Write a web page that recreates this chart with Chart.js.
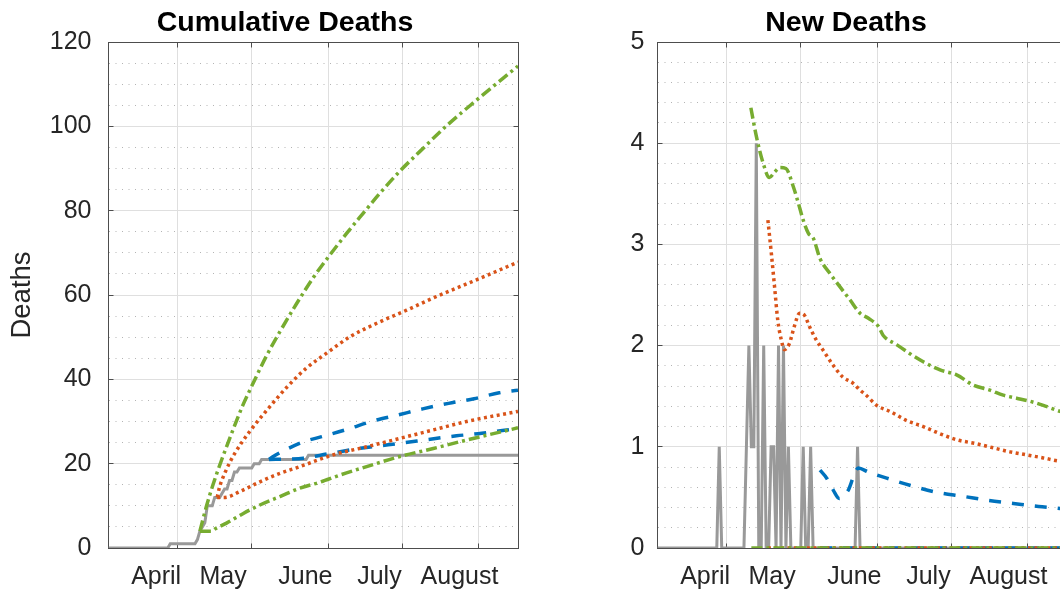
<!DOCTYPE html>
<html>
<head>
<meta charset="utf-8">
<title>Cumulative and New Deaths</title>
<script src="https://cdn.jsdelivr.net/npm/chart.js"></script>
<style>
  html, body { margin: 0; padding: 0; background: #fff; overflow: hidden; }
  body { width: 1060px; height: 594px; position: relative; }
  .panel { position: absolute; top: 0; width: 560px; height: 594px; }
</style>
</head>
<body>
<div class="panel" style="left:0px"><canvas id="cumChart" width="560" height="594"></canvas></div>
<div class="panel" style="left:560px"><canvas id="newChart" width="560" height="594"></canvas></div>
<script>
// x values are days counted from 1 March 2020 (1 April = 31)
const dayMin = 3;
const dayMax = 168.8;
const monthStarts = [31, 61, 92, 122, 153];
const monthNames = ['April', 'May', 'June', 'July', 'August'];
const monthLabelDays = [22.3, 49.4, 82.7, 112.7, 145.1];

// observed deaths: [day, deaths reported that day]
const observedDeaths = [[28,1],[39,1],[40,2],[41,1],[42,1],[43,4],[46,2],[49,1],[50,1],
  [52,2],[54,2],[56,1],[62,1],[65,1],[84,1]];
const lastObservedDay = 169;

// cumulative deaths, model scenarios [day, deaths]
const greenHighCum = [[40,4],[42.7,10],[45.3,15],[48.5,20.4],[53,27.4],[57.5,34],[61,38.4],[67,45.6],
  [72.4,51.3],[79,57.8],[86,64.2],[92,69],[99.4,74.6],[106,79.3],[113,84.2],[121,89.4],[129,94],
  [140,100.2],[152,106.2],[168.8,114.3]];
const greenLowCum = [[40,4],[44.8,4],[46.1,4.5],[50.8,5.9],[57.6,8.2],[64.3,10.2],[72.4,12.2],[80.5,14.2],
  [88.6,15.6],[96.7,17.3],[107.5,19.3],[121,21.7],[134.5,23.6],[148,25.6],[168.8,28.5]];
const orangeHighCum = [[47,12],[48,14.5],[50.5,18.3],[54,22.3],[60,27.5],[67,32.6],[75,38],[83,42.6],
  [91.3,46.2],[100.8,50.1],[111.6,53.3],[123.7,56.4],[134.5,59.3],[152,63.6],[168.8,67.8]];
const orangeLowCum = [[47,12],[50,12],[56.2,13.4],[64.3,15.7],[72.4,17.7],[80.5,19.3],[94,22.1],
  [107.5,24],[121,26],[134.5,28],[148,30],[168.8,32.4]];
const blueHighCum = [[68,21],[69.7,21.7],[75.1,23.4],[82,25.2],[89.3,26.4],[99.4,28.1],[109.9,30.1],
  [119.9,31.5],[130.2,33],[140.7,34.3],[151,35.4],[161.2,36.8],[168.8,37.4]];
const blueLowCum = [[68,21],[76,21.1],[81.9,21.3],[91.6,22.3],[102.1,23.4],[112.6,24.2],[123.1,25],
  [133.3,25.8],[143.9,26.6],[154.1,27.2],[164.2,28],[168.8,28.3]];

// new deaths per day, model scenarios [day, deaths]
const greenHighNew = [[40.8,4.35],[43.1,4.06],[45.8,3.8],[48.3,3.66],[50.6,3.72],[52.6,3.76],[55,3.75],
  [58,3.57],[60,3.41],[62,3.24],[64.1,3.11],[66.1,3.06],[68.8,2.86],[72.9,2.71],[76.9,2.58],[81,2.45],
  [85,2.32],[88.4,2.27],[92.4,2.19],[94.4,2.1],[99.8,2.01],[105.2,1.92],[110.6,1.84],[117.4,1.76],
  [124.1,1.71],[130.9,1.61],[137.6,1.56],[143,1.51],[148.4,1.48],[153.8,1.45],[159.2,1.41],
  [165.9,1.35],[168.8,1.33]];
const orangeHighNew = [[47.7,3.24],[49.1,2.91],[50.4,2.58],[51.7,2.25],[53.1,2.06],[54.4,1.96],[56.4,2.02],
  [58.4,2.19],[60.5,2.32],[62.5,2.3],[64.5,2.19],[67.2,2.06],[69.9,1.96],[74,1.81],[78,1.69],[82.1,1.63],
  [85,1.56],[87.5,1.51],[91.7,1.41],[97.1,1.35],[103.8,1.26],[110.6,1.2],[117.3,1.13],[124.1,1.07],
  [132.2,1.03],[138.9,0.99],[145.7,0.95],[152.5,0.92],[159.2,0.89],[165.3,0.86],[168.8,0.85]];
const blueHighNew = [[68.8,0.77],[71.5,0.69],[74.2,0.57],[76.6,0.49],[80.2,0.57],[82.3,0.7],[84.3,0.79],
  [88.4,0.75],[95.8,0.69],[106.6,0.61],[116.1,0.55],[126.9,0.51],[137,0.47],[147.1,0.44],[157.3,0.41],
  [166,0.39],[168.8,0.38]];
const greenLowNew = [[41,0],[168.8,0]];
const orangeLowNew = [[47.7,0],[168.8,0]];
const blueLowNew = [[68.8,0],[168.8,0]];

const fontFamily = "'Liberation Sans', Arial, Helvetica, sans-serif";
const textColor = '#262626';
const axisColor = '#4d4d4d';
const majorGrid = '#dfdfdf';
const minorGrid = '#b4b4b4';
const blue = '#0072BD', orange = '#D95319', green = '#77AC30', gray = '#999999';

// build observed daily and running total series
var dailyObserved = [];
var cumObserved = [];
var total = 0;
for (let d = dayMin; d <= lastObservedDay; d++) {
  const hit = observedDeaths.find(e => e[0] === d);
  const n = hit ? hit[1] : 0;
  total += n;
  dailyObserved.push({x: d, y: n});
  cumObserved.push({x: d, y: total});
}

function toPoints(arr) {
  return arr.map(p => ({x: p[0], y: p[1]}));
}

function line(points, color, dash, smooth, width) {
  return {
    data: points,
    borderColor: color,
    borderWidth: width || 3.5,
    borderDash: dash,
    borderCapStyle: 'butt',
    pointRadius: 0,
    fill: false,
    tension: 0,
    cubicInterpolationMode: smooth ? 'monotone' : 'default'
  };
}

const greenDash = [11, 4, 3, 4];
const orangeDash = [3, 3.5];
const blueDash = [12, 11];

// matlab style box with inward tick marks
const boxPlugin = {
  id: 'matlabBox',
  beforeDatasetsDraw(chart) {
    const ctx = chart.ctx;
    const a = chart.chartArea;
    const L = Math.floor(a.left) + 0.5, R = Math.floor(a.right) + 0.5;
    const T = Math.floor(a.top) + 0.5, B = Math.floor(a.bottom) + 0.5;
    const len = 5;
    ctx.save();
    ctx.strokeStyle = axisColor;
    ctx.lineWidth = 1;
    ctx.strokeRect(L, T, R - L, B - T);
    ctx.beginPath();
    chart.scales.x.ticks.forEach(t => {
      const px = Math.floor(chart.scales.x.getPixelForValue(t.value)) + 0.5;
      ctx.moveTo(px, B); ctx.lineTo(px, B - len);
      ctx.moveTo(px, T); ctx.lineTo(px, T + len);
    });
    chart.scales.y.ticks.forEach(t => {
      const py = Math.floor(chart.scales.y.getPixelForValue(t.value)) + 0.5;
      ctx.moveTo(L, py); ctx.lineTo(L + len, py);
      ctx.moveTo(R, py); ctx.lineTo(R - len, py);
    });
    ctx.stroke();
    ctx.restore();
  }
};

const titlePlugin = {
  id: 'panelTitle',
  afterDraw(chart, args, opts) {
    const ctx = chart.ctx;
    ctx.save();
    ctx.font = 'bold 28.5px ' + fontFamily;
    ctx.fillStyle = '#000';
    ctx.textAlign = 'center';
    ctx.textBaseline = 'alphabetic';
    ctx.fillText(opts.text, opts.x, opts.y);
    ctx.restore();
  }
};

function isWhole(v, step) {
  const r = v / step;
  return Math.abs(r - Math.round(r)) < 1e-6;
}

function stepTicks(max, step) {
  var out = [];
  for (let i = 0; i * step <= max + 1e-9; i++) out.push({value: +(i * step).toFixed(6)});
  return out;
}

function panelOptions(cfg) {
  return {
    responsive: false,
    animation: false,
    devicePixelRatio: 1,
    events: [],
    layout: { autoPadding: false, padding: { left: 0, top: 42, right: cfg.padRight, bottom: 0 } },
    plugins: {
      legend: { display: false },
      tooltip: { enabled: false },
      panelTitle: { text: cfg.title, x: cfg.titleX, y: 30.5 }
    },
    scales: {
      x: {
        type: 'linear', position: 'bottom', min: dayMin, max: dayMax,
        afterBuildTicks: s => { s.ticks = monthStarts.map(v => ({value: v})); },
        afterFit: s => { s.height = 0; },
        ticks: { display: false },
        grid: { color: majorGrid, drawTicks: false },
        border: { display: false }
      },
      xLabels: {
        type: 'linear', position: 'bottom', min: dayMin, max: dayMax,
        afterBuildTicks: s => { s.ticks = monthLabelDays.map(v => ({value: v})); },
        afterFit: s => { s.height = 46; },
        ticks: {
          autoSkip: false, maxRotation: 0, padding: 6,
          font: { family: fontFamily, size: 25 }, color: textColor,
          callback: (v, i) => monthNames[i]
        },
        grid: { display: false },
        border: { display: false }
      },
      y: {
        type: 'linear', position: 'left', min: 0, max: cfg.yMax,
        afterBuildTicks: s => { s.ticks = stepTicks(cfg.yMax, cfg.yStep); },
        afterFit: s => { s.width = cfg.axisWidth; },
        ticks: { padding: cfg.labelGap, font: { family: fontFamily, size: 25 }, color: textColor },
        grid: { color: majorGrid, drawTicks: false },
        border: { display: false },
        title: {
          display: !!cfg.yTitle, text: cfg.yTitle || '', color: textColor,
          font: { family: fontFamily, size: 27.5 }, padding: { top: 6, bottom: 0 }
        }
      },
      yMinor: {
        type: 'linear', position: 'left', min: 0, max: cfg.yMax,
        afterBuildTicks: s => { s.ticks = stepTicks(cfg.yMax, cfg.yMinorStep); },
        afterFit: s => { s.width = 0; },
        ticks: { display: false },
        grid: {
          drawTicks: false,
          color: c => isWhole(c.tick.value, cfg.yStep) ? 'rgba(0,0,0,0)' : minorGrid
        },
        border: { display: false, dash: [1, 5.5] }
      }
    }
  };
}

Chart.register(boxPlugin, titlePlugin);

const cumChart = new Chart(document.getElementById('cumChart'), {
  type: 'line',
  data: {
    datasets: [
      line(toPoints(greenHighCum), green, greenDash, true),
      line(toPoints(greenLowCum), green, greenDash, true),
      line(toPoints(orangeHighCum), orange, orangeDash, true),
      line(toPoints(orangeLowCum), orange, orangeDash, true),
      line(toPoints(blueHighCum), blue, blueDash, true),
      line(toPoints(blueLowCum), blue, blueDash, true),
      line(cumObserved, gray, [], false, 3)
    ]
  },
  options: panelOptions({
    title: 'Cumulative Deaths', titleX: 285, yTitle: 'Deaths', labelGap: 17,
    yMax: 120, yStep: 20, yMinorStep: 5, axisWidth: 108.5, padRight: 42
  })
});

const newChart = new Chart(document.getElementById('newChart'), {
  type: 'line',
  data: {
    datasets: [
      line(toPoints(greenHighNew), green, greenDash, true),
      line(toPoints(greenLowNew), green, greenDash, false),
      line(toPoints(orangeHighNew), orange, orangeDash, true),
      line(toPoints(orangeLowNew), orange, orangeDash, false),
      line(toPoints(blueHighNew), blue, blueDash, true),
      line(toPoints(blueLowNew), blue, blueDash, false),
      line(dailyObserved, gray, [], false, 3)
    ]
  },
  options: panelOptions({
    title: 'New Deaths', titleX: 286, labelGap: 13,
    yMax: 5, yStep: 1, yMinorStep: 0.2, axisWidth: 97.5, padRight: 53
  })
});
</script>
</body>
</html>
